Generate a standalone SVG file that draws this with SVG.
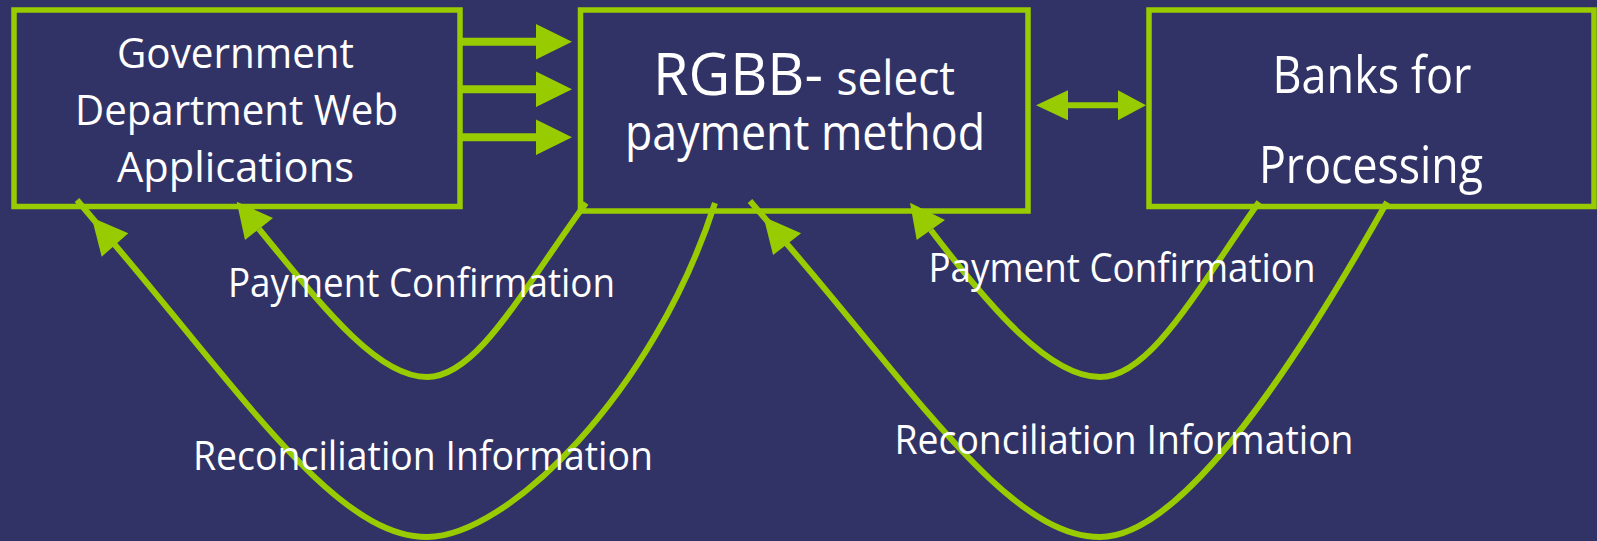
<svg xmlns="http://www.w3.org/2000/svg" width="1597" height="541" viewBox="0 0 1597 541">
<style>
.bg{fill:#313366}
.box{fill:#313366;stroke:#99CC00;stroke-width:5.5}
.ln{fill:none;stroke:#99CC00;stroke-width:6;stroke-linecap:butt}
.thick{fill:none;stroke:#99CC00;stroke-width:8}
.hd{fill:#99CC00;stroke:none}
.t{fill:#ffffff;font-family:"Open Sans","Noto Sans","Liberation Sans",sans-serif}
.lbl{font-size:40px}
.bt{font-size:42px}
</style>
<rect class="bg" x="0" y="0" width="1597" height="541"/>
<g id="node-gov">
<rect class="box" x="14" y="10" width="446" height="196.5"/>
<text class="t bt" x="235.5" y="68" text-anchor="middle" textLength="237" lengthAdjust="spacingAndGlyphs">Government</text>
<text class="t bt" x="236.5" y="125" text-anchor="middle" textLength="323" lengthAdjust="spacingAndGlyphs">Department Web</text>
<text class="t bt" x="235.5" y="182" text-anchor="middle" textLength="237" lengthAdjust="spacingAndGlyphs">Applications</text>
</g>
<g id="node-rgbb">
<rect class="box" x="580.5" y="10" width="447.5" height="201"/>
<text class="t"><tspan x="653" y="95" font-size="58" textLength="170" lengthAdjust="spacingAndGlyphs">RGBB-</tspan><tspan x="836.5" y="95" font-size="47" textLength="118.5" lengthAdjust="spacingAndGlyphs">select</tspan><tspan x="625" y="150" font-size="50" textLength="360" lengthAdjust="spacingAndGlyphs">payment method</tspan></text>
</g>
<g id="node-banks">
<rect class="box" x="1149" y="10" width="445" height="196.5"/>
<text class="t" x="1372" y="93.3" font-size="52" text-anchor="middle" textLength="199" lengthAdjust="spacingAndGlyphs">Banks for</text>
<text class="t" x="1371" y="183.3" font-size="52" text-anchor="middle" textLength="224" lengthAdjust="spacingAndGlyphs">Processing</text>
</g>
<g id="connectors">
<line class="thick" x1="460" y1="41.7" x2="537" y2="41.7"/>
<polygon class="hd" points="536,24 572,41.7 536,59.4"/>
<line class="thick" x1="460" y1="89.3" x2="537" y2="89.3"/>
<polygon class="hd" points="536,71.6 572,89.3 536,107"/>
<line class="thick" x1="460" y1="137.3" x2="537" y2="137.3"/>
<polygon class="hd" points="536,119.6 572,137.3 536,155"/>
<line class="ln" x1="1066" y1="105.3" x2="1120" y2="105.3"/>
<polygon class="hd" points="1068,90.3 1036,105.3 1068,120.3"/>
<polygon class="hd" points="1118,90.3 1146,105.3 1118,120.3"/>
<path class="ln" d="M586,203 C521,292 477,377 427,377 C377,377 322,306 259,229"/>
<polygon class="hd" points="236.7,201.7 245,240 273,218"/>
<path class="ln" d="M715,203 C654,393 507,537 427,537 C337,537 244.6,397.2 115,245 L77,200"/>
<polygon class="hd" points="91.7,217.6 101.7,256.7 128.3,233.3"/>
<path class="ln" d="M1259,202 C1195.6,292 1150,377 1100,377 C1050,377 991.4,309.5 930.8,230"/>
<polygon class="hd" points="910,202.7 916.7,240 945,220"/>
<path class="ln" d="M1387,202 C1289,376.4 1180,537 1100,537 C1010,537 917.4,395.6 787,244 L750,201"/>
<polygon class="hd" points="763.5,216.7 773.1,255 801.1,233.3"/>
</g>
<g id="labels">
<text class="t lbl" x="421.5" y="297" text-anchor="middle" textLength="387" lengthAdjust="spacingAndGlyphs">Payment Confirmation</text>
<text class="t lbl" x="423" y="470" text-anchor="middle" textLength="460" lengthAdjust="spacingAndGlyphs">Reconciliation Information</text>
<text class="t lbl" x="1122" y="281.7" text-anchor="middle" textLength="387" lengthAdjust="spacingAndGlyphs">Payment Confirmation</text>
<text class="t lbl" x="1124" y="454" text-anchor="middle" textLength="459" lengthAdjust="spacingAndGlyphs">Reconciliation Information</text>
</g>
</svg>
